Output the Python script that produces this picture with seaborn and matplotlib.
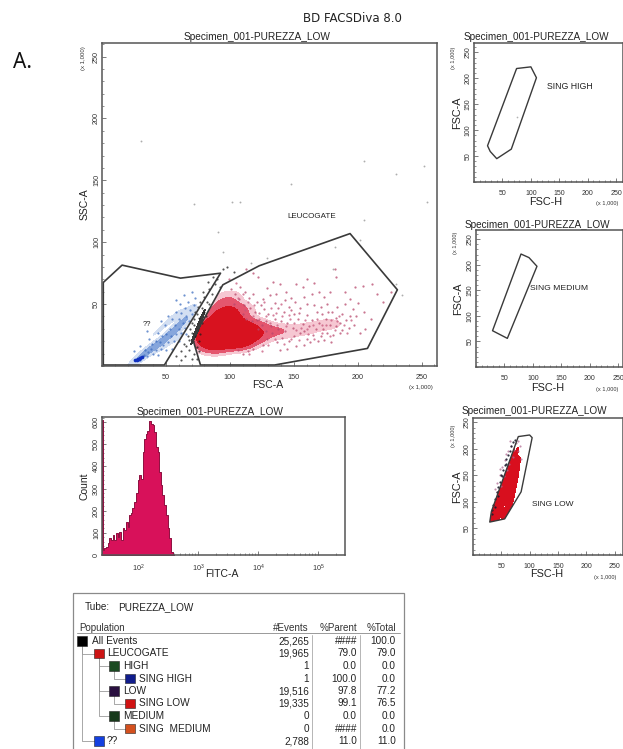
import numpy as np
import pandas as pd
import matplotlib
matplotlib.use("Agg")
import matplotlib.pyplot as plt
from matplotlib.colors import ListedColormap
from matplotlib.patches import Polygon, Rectangle
from matplotlib.ticker import FixedLocator, LogLocator, MultipleLocator, NullFormatter
import seaborn as sns

W, H = 623, 749

sns.set_theme(style="ticks")
plt.rcParams["font.family"] = ["Liberation Sans", "DejaVu Sans"]

SPECIMEN = "Specimen_001-PUREZZA_LOW"
scatter_ticks = [50, 100, 150, 200, 250]

# gates (x 1,000)
leuco_x = [94.5, 71, 77, 135, 207.6, 231, 194, 123]
leuco_y = [65.6, 21.8, 0.8, 0.8, 14.2, 61.6, 107, 81]
unknown_x = [1, 15.7, 61.4, 92.7, 48.8, 1]
unknown_y = [67.5, 81.5, 71, 75, 0.8, 0.8]
high_x = [74.9, 100, 109.8, 65.6, 40, 28.5, 23.8]
high_y = [218.8, 222, 201, 63.4, 45, 58.9, 69.9]
medium_x = [79, 93, 107, 55, 29]
medium_y = [221, 214, 197, 56, 71]
low_x = [80, 100, 104.5, 85, 56, 29.6, 32.5]
low_y = [223, 226, 221, 119, 68, 62, 82]

# dense part of the red cloud, as density read per spot
core_x = [78, 84, 90, 82, 88, 94, 100, 106, 112, 86, 92, 98, 104, 110, 116, 122, 92, 98, 104, 110,
          116, 122, 96, 102, 108, 100, 130, 138, 148, 160, 172, 182]
core_y = [22, 18, 16, 28, 25, 22, 20, 19, 20, 35, 32, 30, 28, 26, 25, 24, 42, 40, 37, 34,
          32, 31, 50, 47, 44, 56, 28, 28, 28, 30, 33, 34]
core_w = [5, 7, 6, 8, 10, 10, 9, 7, 5, 7, 9, 10, 8, 6, 5, 3, 6, 6, 5, 4,
          3, 2.5, 3, 3, 2.5, 1.2, 2, 1.5, 1, 1, 0.8, 0.6]

# sparse pink events
pink_x = [101, 104, 108, 112, 115, 118, 121, 103, 107, 111, 116, 120, 124, 127, 130, 126, 131, 135, 138, 142,
          146, 150, 148, 144, 139, 134, 129, 122, 118, 113, 152, 157, 160, 166, 170, 174, 178, 183, 182, 190,
          198, 204, 211, 215, 220, 226, 135, 140, 145, 149, 153, 157, 160, 164, 167, 170, 172, 175, 178, 180,
          183, 186, 188, 191, 193, 196, 199, 202, 206, 210, 186, 181, 176, 171, 165, 160, 155, 150, 146, 141,
          137, 133, 129, 126, 122, 118, 114, 110, 106, 139, 145, 152, 158, 163, 169, 174, 179, 155, 160, 166,
          171, 176, 164, 158, 151, 143, 136, 128, 132, 138, 143, 148, 154, 158, 162, 168, 173, 177, 184, 190,
          194, 200, 205, 183, 188, 194, 197, 110, 113, 117, 121, 125, 128]
pink_y = [62, 58, 64, 60, 55, 58, 52, 50, 54, 49, 47, 44, 49, 46, 42, 54, 57, 51, 47, 44,
          48, 42, 55, 60, 66, 68, 63, 72, 75, 78, 66, 64, 70, 67, 60, 56, 60, 72, 78, 60,
          64, 65, 66, 58, 52, 60, 38, 36, 35, 31, 38, 34, 41, 37, 30, 35, 42, 38, 33, 44,
          39, 35, 42, 37, 31, 46, 40, 27, 30, 38, 27, 25, 27, 24, 25, 22, 27, 24, 20, 23,
          19, 27, 22, 17, 30, 14, 12, 10, 13, 13, 14, 16, 17, 19, 20, 21, 19, 47, 50, 49,
          48, 50, 58, 56, 52, 53, 58, 36, 32, 30, 28, 45, 43, 28, 32, 44, 30, 44, 48, 50,
          54, 51, 44, 32, 29, 40, 33, 42, 38, 36, 37, 33, 28]
pink_more_x = [128, 131, 134, 137, 141, 144, 147, 150, 152, 156, 159, 161, 165, 168, 172, 175, 179, 182, 185, 189,
               192, 195, 142, 148, 154, 160, 166, 172, 178, 184, 105, 110, 114, 119, 123, 127, 132, 136, 140, 146,
               99, 106, 112, 118, 123, 130, 135, 125, 120, 115]
pink_more_y = [40, 35, 41, 33, 40, 32, 38, 35, 29, 31, 37, 26, 33, 38, 27, 33, 37, 29, 40, 33,
               27, 37, 18, 22, 21, 30, 22, 33, 24, 36, 67, 58, 52, 49, 43, 52, 47, 43, 50, 41,
               70, 55, 45, 40, 38, 17, 22, 12, 18, 10]

# blue events of the ?? gate
blue_x = [27, 28, 29, 30, 31, 32, 30, 33, 35, 36, 38, 34, 40, 42, 44, 46, 39, 42, 37, 45,
          48, 50, 52, 47, 44, 50, 54, 56, 58, 53, 49, 46, 57, 60, 62, 55, 52, 60, 63, 65,
          58, 62, 66, 68, 65, 69, 70, 61, 67, 72, 64, 58, 73, 70, 35, 30, 25, 55, 60, 66]
blue_y = [6, 5, 6, 7, 7, 8, 5, 9, 8, 11, 14, 13, 10, 13, 9, 14, 18, 20, 22, 19,
          17, 13, 19, 24, 27, 26, 24, 20, 26, 30, 33, 36, 33, 30, 27, 38, 40, 38, 35, 31,
          44, 43, 40, 36, 47, 45, 42, 50, 52, 49, 57, 53, 55, 60, 28, 16, 12, 14, 20, 26]
blue_core_x = [28, 32, 36, 40, 45, 50, 55, 60, 65, 68, 62, 40, 50, 48, 60, 58, 66]
blue_core_y = [6, 9, 12, 15, 18, 22, 27, 32, 38, 45, 42, 25, 34, 14, 22, 42, 30]
blue_core_w = [4, 2, 3, 3, 3, 4, 4, 4, 4, 2, 1, 1.5, 1.5, 1.5, 1.5, 1.5, 1]
tail_x = [26, 27, 28, 29, 30, 31]
tail_y = [4.5, 5, 5.5, 6, 6.5, 7.5]

# ungated black events on the gate edge
black_x = [62, 65, 68, 70, 66, 72, 74, 71, 68, 64, 70, 73, 75, 72, 78, 76, 74, 80, 78, 82,
           84, 80, 86, 84, 88, 90, 87, 95, 98, 103, 72, 69, 67, 76, 77, 75, 79, 83, 62, 58,
           92, 76, 74, 70, 73, 77, 81]
black_y = [12, 8, 13, 6, 16, 10, 15, 20, 21, 18, 27, 24, 30, 33, 35, 39, 42, 44, 47, 52,
           50, 56, 58, 62, 66, 70, 72, 78, 80, 76, 38, 30, 24, 20, 26, 48, 60, 68, 5, 8,
           64, 12, 6, 35, 44, 52, 40]
black_core_x = [68, 71, 73, 75, 77, 79, 81, 84, 66, 70, 78]
black_core_y = [14, 20, 26, 31, 36, 42, 48, 54, 20, 34, 30]
black_core_w = [2, 3, 4, 4, 4, 3, 2, 1, 1, 1, 1]

# stray events up in the plot
stray_x = [205, 230, 148, 101.6, 107.6, 254, 205, 90.6, 30.6, 202, 95, 252, 182, 72, 116.7, 129, 181, 235, 230]
stray_y = [165.6, 155, 147, 132.5, 132.5, 132.5, 118, 108, 182, 102, 92, 162, 96, 130.6, 83, 87, 78, 57, 66]

# singlet plot (LOW)
single_x = [34, 56, 38, 62, 42, 66, 48, 70, 55, 74, 64, 78, 70, 78, 45, 50, 54, 60, 64, 70]
single_y = [72, 72, 85, 85, 105, 105, 125, 125, 145, 145, 170, 170, 195, 195, 80, 100, 115, 130, 145, 160]
single_w = [3, 3, 3, 3, 3, 3, 3, 3, 2.5, 2.5, 1.5, 1.5, 0.7, 0.7, 5, 6, 6, 5, 4, 3]
edge_x = [33, 36, 39, 42, 45, 48, 50, 53, 56, 59, 62, 65, 68, 71, 74, 34, 38, 44, 52, 58]
edge_y = [85, 95, 105, 118, 128, 138, 150, 160, 170, 180, 188, 196, 205, 212, 216, 78, 90, 112, 148, 172]
purple_x = [38, 42, 43, 47, 50, 52, 55, 57, 60, 62, 64, 68, 72, 76, 80, 83, 66, 58, 48, 70, 79, 84]
purple_y = [125, 135, 118, 150, 130, 165, 148, 178, 160, 195, 172, 205, 198, 210, 215, 205, 215, 190, 162, 185, 196, 180]

# FITC-A histogram (log10 of FITC, count)
fitc_log = [1.405, 1.422, 1.450, 1.478, 1.506, 1.533, 1.561, 1.589, 1.617, 1.645, 1.672, 1.700, 1.728, 1.756, 1.783,
            1.811, 1.839, 1.867, 1.894, 1.922, 1.950, 1.978, 2.006, 2.033, 2.061, 2.089, 2.117, 2.144, 2.172, 2.200,
            2.228, 2.256, 2.283, 2.311, 2.339, 2.367, 2.394, 2.422, 2.450, 2.478, 2.506, 2.533, 2.561, 2.589]
fitc_count = [610, 22, 30, 38, 52, 75, 68, 90, 68, 98, 82, 105, 68, 120, 112,
              150, 128, 180, 188, 210, 240, 278, 338, 360, 345, 465, 525, 548, 562, 603,
              592, 585, 555, 488, 465, 375, 315, 270, 225, 180, 120, 75, 15, 0]

# statistics table
populations = ["All Events", "LEUCOGATE", "HIGH", "SING HIGH", "LOW", "SING LOW", "MEDIUM", "SING  MEDIUM", "??"]
depth = [0, 1, 2, 3, 2, 3, 2, 3, 1]
swatches = ["#000000", "#cc1414", "#1b4a22", "#101c8c", "#2a1040", "#d01212", "#183a1c", "#d4501e", "#1440e0"]
events = ["25,265", "19,965", "1", "1", "19,516", "19,335", "0", "0", "2,788"]
parent = ["####", "79.0", "0.0", "100.0", "97.8", "99.1", "0.0", "####", "11.0"]
total = ["100.0", "79.0", "0.0", "0.0", "77.2", "76.5", "0.0", "0.0", "11.0"]

fig = plt.figure(figsize=(W / 100, H / 100), dpi=100, facecolor="white")

# page axes in pixels, for the free text and the table
page = fig.add_axes([0, 0, 1, 1])
page.set_xlim(0, W)
page.set_ylim(H, 0)
page.axis("off")


def style_axes(ax, tick=5.2, xpad=5.5, ypad=1.5):
    for s in ax.spines.values():
        s.set_visible(True)
        s.set_color("#555555")
        s.set_linewidth(1.1)
    ax.patch.set_alpha(0)
    ax.tick_params(which="major", direction="in", length=3, width=0.6, color="#666666",
                   labelsize=tick, labelcolor="#333333")
    ax.tick_params(axis="x", which="major", pad=xpad)
    ax.tick_params(axis="y", which="major", pad=ypad)
    ax.tick_params(which="minor", direction="in", length=1.5, width=0.5, color="#666666")


def panel(left, top, right, bottom, xmax, ymax, tick=5.2):
    ax = fig.add_axes([left / W, 1 - bottom / H, (right - left) / W, (bottom - top) / H])
    ax.set_xlim(0, xmax)
    ax.set_ylim(0, ymax)
    ax.xaxis.set_major_locator(FixedLocator(scatter_ticks))
    ax.yaxis.set_major_locator(FixedLocator(scatter_ticks))
    ax.xaxis.set_minor_locator(MultipleLocator(10))
    ax.yaxis.set_minor_locator(MultipleLocator(10))
    style_axes(ax, tick)
    plt.setp(ax.get_yticklabels(), rotation=90, va="center")
    return ax


def labels(ax, xlab, ylab, xpos, ypos, size=7.5):
    ax.set_xlabel(xlab, fontsize=size, color="#222222")
    ax.set_ylabel(ylab, fontsize=size, color="#222222")
    ax.xaxis.set_label_coords(*xpos)
    ax.yaxis.set_label_coords(*ypos)


def gate(ax, xs, ys, lw=1.2):
    ax.fill(xs, ys, fill=False, edgecolor="#3a3a3a", linewidth=lw, joinstyle="round")


def dots(ax, xs, ys, color, s=2.2, alpha=0.75):
    sns.scatterplot(x=xs, y=ys, color=color, s=s, alpha=alpha, linewidth=0, ax=ax, legend=False)


def density(ax, xs, ys, ws, bw, steps, grid=200, inside=None):
    # one filled pass per shade, lowest density first
    spots = pd.DataFrame({"x": xs, "y": ys, "w": ws})
    for level, shade in steps:
        sns.kdeplot(data=spots, x="x", y="y", weights="w", fill=True, bw_adjust=bw, gridsize=grid,
                    levels=[level, 1], cmap=ListedColormap([shade]), ax=ax)
        if inside is not None:
            # events stay within their gate
            ax.collections[-1].set_clip_path(Polygon(list(zip(*inside)), transform=ax.transData))
    ax.set_xlabel("")
    ax.set_ylabel("")


page.text(13, 62, "A.", fontsize=15, family="Noto Sans", color="#111111", va="center")
page.text(352, 18.5, "BD FACSDiva 8.0", fontsize=8.5, family="DejaVu Sans", color="#222222", ha="center", va="center")

# main FSC-A / SSC-A plot
ax = panel(102, 43, 437, 366, 262, 261)
density(ax, blue_core_x, blue_core_y, blue_core_w, 0.8, [(0.2, "#d3dff2"), (0.6, "#86a6dc")], grid=150,
        inside=(unknown_x, unknown_y))
density(ax, core_x, core_y, core_w, 0.7, [(0.015, "#f6c7d2"), (0.07, "#e4566e"), (0.2, "#d8121f")], grid=220,
        inside=(leuco_x, leuco_y))
density(ax, black_core_x, black_core_y, black_core_w, 0.9, [(0.6, "#3a3a3a")], grid=120)
ax.set_xlim(0, 262)
ax.set_ylim(0, 261)
dots(ax, pink_x, pink_y, "#b8486c", s=2.6)
dots(ax, pink_more_x, pink_more_y, "#c8587c", s=2.6)
dots(ax, blue_x, blue_y, "#3f6fc0", s=2.6)
dots(ax, tail_x, tail_y, "#1030c0", s=7, alpha=1)
dots(ax, black_x, black_y, "#1c1c1c", s=2.4)
dots(ax, stray_x, stray_y, "#777777", s=1.8, alpha=0.6)
gate(ax, leuco_x, leuco_y)
gate(ax, unknown_x, unknown_y)
labels(ax, "FSC-A", "SSC-A", (0.495, -0.043), (-0.036, 0.5))
page.text(257, 36.5, SPECIMEN, fontsize=7.3, ha="center", va="center", color="#222222")
page.text(312, 216, "LEUCOGATE", fontsize=5.8, ha="center", va="center", color="#222222")
page.text(147, 324, "??", fontsize=5.5, ha="center", va="center", color="#222222")
page.text(421, 388, "(x 1,000)", fontsize=4.3, ha="center", va="center", color="#333333")
page.text(83, 58, "(x 1,000)", fontsize=4.3, ha="center", va="center", rotation=90, color="#333333")

# singlet plots on the right
ax = panel(474, 43, 623, 182, 262, 268, tick=5)
gate(ax, high_x, high_y, lw=1)
dots(ax, [75], [125], "#999999", s=1.5)
labels(ax, "FSC-H", "FSC-A", (0.478, -0.105), (-0.08, 0.5), size=7.8)
page.text(536, 37, SPECIMEN, fontsize=7.2, ha="center", va="center", color="#222222")
page.text(570, 86.5, "SING HIGH", fontsize=6.3, ha="center", va="center", color="#222222")
page.text(607, 204, "(x 1,000)", fontsize=4.1, ha="center", va="center", color="#333333")
page.text(454, 58, "(x 1,000)", fontsize=4.1, ha="center", va="center", rotation=90, color="#333333")

ax = panel(476, 230, 623, 367, 258, 268, tick=5)
gate(ax, medium_x, medium_y, lw=1)
labels(ax, "FSC-H", "FSC-A", (0.485, -0.118), (-0.088, 0.5), size=7.8)
page.text(537, 225, SPECIMEN, fontsize=7.2, ha="center", va="center", color="#222222")
page.text(559, 288, "SING MEDIUM", fontsize=6.1, ha="center", va="center", color="#222222")
page.text(607, 390, "(x 1,000)", fontsize=4.1, ha="center", va="center", color="#333333")
page.text(456, 243, "(x 1,000)", fontsize=4.1, ha="center", va="center", rotation=90, color="#333333")

ax = panel(473, 418, 623, 555, 265, 258, tick=5)
density(ax, single_x, single_y, single_w, 0.55, [(0.04, "#d80f1e")], inside=(low_x, low_y))
ax.set_xlim(0, 265)
ax.set_ylim(0, 258)
dots(ax, purple_x, purple_y, "#b06a92", s=2.4)
dots(ax, edge_x, edge_y, "#1c1c2c", s=2.6, alpha=0.9)
gate(ax, low_x, low_y, lw=1)
labels(ax, "FSC-H", "FSC-A", (0.49, -0.105), (-0.073, 0.5), size=7.8)
page.text(534, 411, SPECIMEN, fontsize=7.2, ha="center", va="center", color="#222222")
page.text(553, 505, "SING LOW", fontsize=6, ha="center", va="center", color="#222222")
page.text(605, 577, "(x 1,000)", fontsize=4.1, ha="center", va="center", color="#333333")
page.text(453, 436, "(x 1,000)", fontsize=4.1, ha="center", va="center", rotation=90, color="#333333")

# FITC-A histogram
ax = fig.add_axes([102 / W, 1 - 555 / H, (345 - 102) / W, (555 - 417) / H])
centres = np.array(fitc_log)
edges = np.r_[centres[0] - 0.012, (centres[:-1] + centres[1:]) / 2, centres[-1] + 0.014]
hist = pd.DataFrame({"fitc": 10 ** centres, "count": fitc_count})
sns.histplot(data=hist, x="fitc", weights="count", bins=list(edges), log_scale=True, element="step",
             color="#d8115a", edgecolor="#8e1040", linewidth=0.7, alpha=1, ax=ax)
ax.set_xlim(10 ** 1.40, 10 ** 5.45)
ax.set_ylim(0, 623)
ax.yaxis.set_major_locator(MultipleLocator(100))
ax.yaxis.set_minor_locator(MultipleLocator(20))
ax.xaxis.set_major_locator(LogLocator(base=10, numticks=8))
ax.xaxis.set_minor_locator(LogLocator(base=10, subs=np.arange(2, 10), numticks=8))
ax.xaxis.set_minor_formatter(NullFormatter())
style_axes(ax)
plt.setp(ax.get_yticklabels(), rotation=90, va="center")
labels(ax, "FITC-A", "Count", (0.495, -0.10), (-0.05, 0.5))
page.text(210, 412, SPECIMEN, fontsize=7.25, ha="center", va="center", color="#222222")

# statistics table
page.add_patch(Rectangle((73, 593), 331, 170, fill=False, edgecolor="#8a8a8a", linewidth=0.9))
page.text(85, 607, "Tube:", fontsize=7.2, va="center", color="#222222")
page.text(118, 607, "PUREZZA_LOW", fontsize=7.2, va="center", color="#222222")
page.text(79, 628, "Population", fontsize=7, va="center", color="#333333")
page.text(309, 628, "#Events", fontsize=7.1, ha="right", va="center", color="#333333")
page.text(357, 628, "%Parent", fontsize=7.1, ha="right", va="center", color="#333333")
page.text(396, 628, "%Total", fontsize=7.1, ha="right", va="center", color="#333333")
page.plot([77, 400], [633, 633], color="#999999", lw=0.7)
page.plot([312, 312], [635, 749], color="#aaaaaa", lw=0.6)
page.plot([360, 360], [635, 749], color="#aaaaaa", lw=0.6)

indent = [82, 99, 114, 130]
text_x = [92, 107, 123, 139]
for i, name in enumerate(populations):
    y = 641 + i * 12.5
    d = depth[i]
    sx = indent[d]
    if d > 0:
        parent_x = indent[d - 1]
        # the elbow back up to the row of the parent
        up = next(j for j in range(i - 1, -1, -1) if depth[j] == d - 1)
        page.plot([parent_x, parent_x, sx], [641 + up * 12.5, y, y], color="#9a9a9a", lw=0.6, zorder=1)
    page.add_patch(Rectangle((sx - 4.7, y - 4.7), 9.4, 9.4, facecolor=swatches[i], edgecolor="#222222",
                             linewidth=0.4, zorder=2))
    page.text(text_x[d], y, name, fontsize=7.3, va="center", color="#222222")
    page.text(309, y, events[i], fontsize=7.2, ha="right", va="center", color="#222222")
    page.text(357, y, parent[i], fontsize=7.2, ha="right", va="center", color="#222222")
    page.text(396, y, total[i], fontsize=7.2, ha="right", va="center", color="#222222")

fig.savefig("out.png", dpi=100)
